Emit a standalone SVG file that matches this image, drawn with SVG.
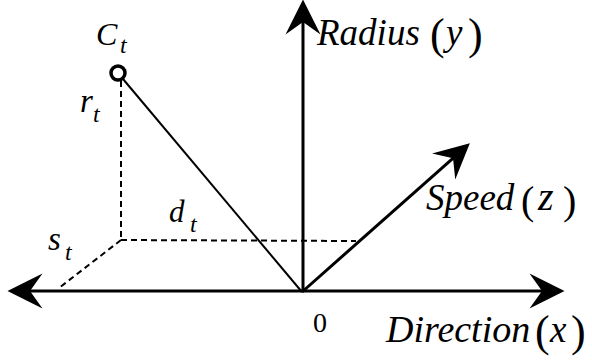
<svg xmlns="http://www.w3.org/2000/svg" width="592" height="361" viewBox="0 0 592 361">
<style>
.ax{stroke:#000;stroke-width:3;fill:none}
.thin{stroke:#000;stroke-width:2;fill:none}
.dash{stroke:#000;stroke-width:2;fill:none;stroke-dasharray:6 4}
text{font-family:'Times New Roman','Liberation Serif','DejaVu Serif',serif;fill:#000}
.it{font-style:italic}
</style>
<defs>
<marker id="ah" markerUnits="userSpaceOnUse" markerWidth="40" markerHeight="40" refX="-10" refY="0" viewBox="-30 -16 32 32" orient="auto">
<path d="M0,0 L-28,-14 L-18,0 L-28,14 Z" fill="#000"/>
</marker>
</defs>
<g id="connectors">
<line class="ax" x1="302" y1="291" x2="20" y2="291" marker-end="url(#ah)"/>
<line class="ax" x1="302" y1="291" x2="552" y2="291" marker-end="url(#ah)"/>
<line class="ax" x1="303" y1="292" x2="303" y2="12" marker-end="url(#ah)"/>
<line class="ax" x1="302" y1="292" x2="460.5" y2="151.6" marker-end="url(#ah)"/>
<line class="thin" x1="123" y1="79" x2="302" y2="292"/>
<line class="dash" x1="121" y1="81" x2="121" y2="240"/>
<line class="dash" x1="121" y1="240" x2="356" y2="241"/>
<line class="dash" x1="121" y1="240" x2="59" y2="288"/>
</g>
<g id="point-ct">
<circle cx="118" cy="73" r="7" fill="#fff" stroke="#000" stroke-width="3.5"/>
<text class="it" x="96" y="45" font-size="32">C</text>
<text class="it" x="120" y="53" font-size="24">t</text>
</g>
<g id="label-rt">
<text class="it" x="80" y="112" font-size="33">r</text>
<text class="it" x="93" y="122" font-size="24">t</text>
</g>
<g id="label-dt">
<text class="it" x="169" y="222" font-size="31">d</text>
<text class="it" x="190" y="232" font-size="24">t</text>
</g>
<g id="label-st">
<text class="it" x="48" y="250" font-size="33">s</text>
<text class="it" x="65" y="260" font-size="24">t</text>
</g>
<g id="label-radius">
<text class="it" x="317" y="45" font-size="37">Radius</text>
<text x="430" y="49" font-size="44">(</text>
<text class="it" x="446" y="45" font-size="37">y</text>
<text x="468" y="49" font-size="44">)</text>
</g>
<g id="label-speed">
<text class="it" x="426" y="210" font-size="37">Speed</text>
<text x="521" y="214" font-size="40">(</text>
<text class="it" x="538" y="210" font-size="40">z</text>
<text x="563" y="214" font-size="40">)</text>
</g>
<g id="label-origin">
<text x="313" y="332" font-size="28">0</text>
</g>
<g id="label-direction">
<text class="it" x="386" y="342" font-size="38">Direction</text>
<text x="535" y="346" font-size="44">(</text>
<text class="it" x="550" y="342" font-size="37">x</text>
<text x="571" y="346" font-size="44">)</text>
</g>
</svg>
